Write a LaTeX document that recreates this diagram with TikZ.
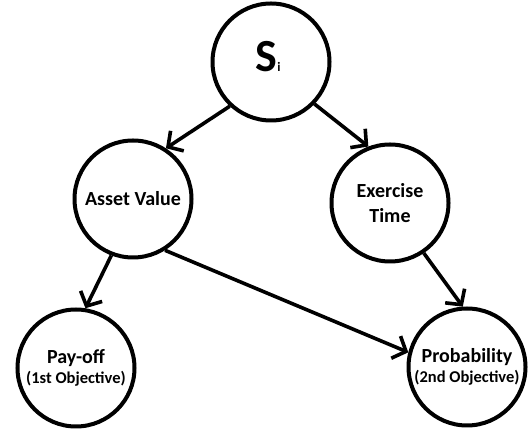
\documentclass[tikz,border=0pt]{standalone}
\usepackage{fontspec}
\setmainfont{Carlito}
\usetikzlibrary{arrows.meta}
\begin{document}
\begin{tikzpicture}[x=1pt,y=1pt,
  state/.style={circle,draw=black,line width=4pt,minimum size=117pt,inner sep=0pt,align=center,
    font=\bfseries\fontsize{20}{23}\selectfont},
  conn/.style={line width=3.6pt,-{Straight Barb[length=11pt,width=24pt,line width=3.6pt]}}
]
\useasboundingbox (0,0) rectangle (532,430);
\node[state] (s) at (271,368) {};
\node[font=\bfseries\fontsize{46}{46}\selectfont] (slabel) at (268,373) {S\raisebox{0pt}{\fontsize{13}{13}\selectfont i}};
\node[state] (asset) at (133,231) {Asset Value};
\node[state] (exer) at (390,227) {Exercise\\[2pt]Time};
\node[state] (pay) at (76,62) {Pay-off\\[-3pt]{\fontsize{16.5}{18}\selectfont (1st Objective)}};
\node[state] (prob) at (467,63) {Probability\\[-3pt]{\fontsize{16.5}{18}\selectfont (2nd Objective)}};
\draw[conn] (s.-133) -- (asset.57);
\draw[conn] (s.-44) -- (exer.111);
\draw[conn] (asset.-111) -- (pay.81);
\draw[conn] (asset.-58) -- (prob.166);
\draw[conn] (exer.-56) -- (prob.94);
\end{tikzpicture}
\end{document}
